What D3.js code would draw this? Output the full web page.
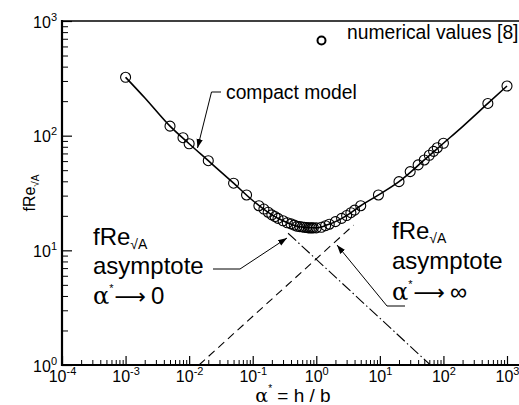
<!DOCTYPE html>
<html><head><meta charset="utf-8">
<script src="https://cdn.jsdelivr.net/npm/d3@7"></script>
<style>body{margin:0;background:#fff} svg{display:block} text{font-family:"Liberation Sans",Arial,sans-serif;fill:#000}</style>
</head><body><svg id="c" width="519" height="405"></svg>
<script>
// ---- data ----
const xDecades = [-4, -3, -2, -1, 0, 1, 2, 3];
const yDecades = [0, 1, 2, 3];
const modelAlpha = [0.001, 0.002, 0.005, 0.01, 0.02, 0.05, 0.1, 0.2, 0.3, 0.5, 0.7, 1, 1.5, 2, 3, 5, 10, 20, 50, 100, 200, 500, 1000];
const modelF     = [323, 214, 121, 85, 60.5, 38.5, 27.2, 20.4, 18.1, 16.2, 15.8, 15.7, 16.7, 17.8, 20.1, 24.5, 30.9, 39.7, 61.4, 85.9, 120, 191, 271];
const numAlpha = [0.001, 0.005, 0.008, 0.01, 0.02, 0.05, 0.08,
  0.125, 0.15, 0.175, 0.2, 0.225, 0.25, 0.3, 0.35, 0.4, 0.45, 0.5, 0.55, 0.6, 0.65, 0.7, 0.75, 0.8, 0.85, 0.9, 1.0,
  1.2, 1.4, 1.6, 2, 2.5, 3, 3.5, 4, 5,
  9.5, 20, 30, 40, 50, 60, 70, 80, 100, 500, 1000];
const numF = [323, 121, 96, 85, 60.5, 38.5, 30.4,
  24.5, 22.9, 21.5, 20.4, 19.7, 19.0, 18.1, 17.4, 17.0, 16.6, 16.2, 16.1, 16.0, 15.9, 15.8, 15.7, 15.7, 15.7, 15.7, 15.7,
  15.9, 16.4, 16.9, 17.8, 19.0, 20.1, 21.3, 22.4, 24.5,
  30.4, 39.7, 48.6, 55.6, 61.4, 67.5, 73, 78.5, 85.9, 191, 271];
const asymZeroAlpha = [0.36, 62.4];
const asymZeroF = [14.1, 1.0];
const asymInfAlpha = [0.0143, 3.86];
const asymInfF = [1.0, 16.6];
const legendLabel = "numerical values [8]";
const modelLabel = "compact model";

// ---- chart ----
const svg = d3.select("#c");
const x = d3.scaleLog().domain([1e-4, 1e3]).range([62, 507]);
const y = d3.scaleLog().domain([1, 1e3]).range([365, 21]);

const majorX = xDecades.map(e => Math.pow(10, e));
const majorY = yDecades.map(e => Math.pow(10, e));
const minorX = [], minorY = [];
xDecades.slice(0, -1).forEach(e => { for (let m = 2; m <= 9; m++) minorX.push(m * Math.pow(10, e)); });
yDecades.slice(0, -1).forEach(e => { for (let m = 2; m <= 9; m++) minorY.push(m * Math.pow(10, e)); });

// minor ticks
svg.append("g").attr("transform", "translate(0,365)")
  .call(d3.axisBottom(x).tickValues(minorX).tickSize(-5).tickFormat(() => ""))
  .call(g => g.select(".domain").remove());
svg.append("g").attr("transform", "translate(62,0)")
  .call(d3.axisLeft(y).tickValues(minorY).tickSize(-6).tickFormat(() => ""))
  .call(g => g.select(".domain").remove());

function supLabel(sel, size) {
  sel.each(function (d) {
    const t = d3.select(this);
    t.text(null);
    t.append("tspan").text("10");
    t.append("tspan").attr("dy", -7).attr("font-size", size).text(Math.round(Math.log10(d)));
  });
}
// major ticks
const gx = svg.append("g").attr("transform", "translate(0,365)")
  .call(d3.axisBottom(x).tickValues(majorX).tickSize(-9).tickFormat(d => d))
  .call(g => g.select(".domain").remove());
gx.selectAll(".tick line").attr("stroke-width", 1.2);
gx.selectAll(".tick text").attr("y", 17).attr("dy", null).attr("font-size", 16)
  .style("font-family", "Liberation Sans, Arial, sans-serif").call(s => supLabel(s, 11));

const gy = svg.append("g").attr("transform", "translate(62,0)")
  .call(d3.axisLeft(y).tickValues(majorY).tickSize(-10).tickFormat(d => d))
  .call(g => g.select(".domain").remove());
gy.selectAll(".tick line").attr("stroke-width", 1.2);
gy.selectAll(".tick text").attr("x", -5).attr("dy", null).attr("y", 6).attr("font-size", 16)
  .style("font-family", "Liberation Sans, Arial, sans-serif").call(s => supLabel(s, 11));

// frame lines
svg.append("line").attr("x1", 62).attr("x2", 519).attr("y1", y(1e3)).attr("y2", y(1e3)).attr("stroke", "#000").attr("stroke-width", 1.6);
svg.append("line").attr("x1", 61).attr("x2", 519).attr("y1", y(1)).attr("y2", y(1)).attr("stroke", "#000").attr("stroke-width", 2.2);
svg.append("line").attr("x1", x(1e-4)).attr("x2", x(1e-4)).attr("y1", 20).attr("y2", 366).attr("stroke", "#000").attr("stroke-width", 2.2);

// asymptotes
const line = d3.line().x(d => x(d[0])).y(d => y(d[1]));
svg.append("path").attr("d", line(asymZeroAlpha.map((a, i) => [a, asymZeroF[i]])))
  .attr("fill", "none").attr("stroke", "#000").attr("stroke-width", 1.1).attr("stroke-dasharray", "11,3,1.5,3");
svg.append("path").attr("d", line(asymInfAlpha.map((a, i) => [a, asymInfF[i]])))
  .attr("fill", "none").attr("stroke", "#000").attr("stroke-width", 1.1).attr("stroke-dasharray", "8,5");

// model
svg.append("path").attr("d", line.curve(d3.curveMonotoneX)(modelAlpha.map((a, i) => [a, modelF[i]])))
  .attr("fill", "none").attr("stroke", "#000").attr("stroke-width", 1.6);

// points
svg.append("g").selectAll("circle").data(numAlpha.map((a, i) => [a, numF[i]])).join("circle")
  .attr("cx", d => x(d[0])).attr("cy", d => y(d[1])).attr("r", 5)
  .attr("fill", "none").attr("stroke", "#000").attr("stroke-width", 1.1);

// legend
svg.append("circle").attr("cx", 321.5).attr("cy", 40.5).attr("r", 4).attr("fill", "none").attr("stroke", "#000").attr("stroke-width", 2);
svg.append("text").attr("x", 347).attr("y", 39).attr("font-size", 19.3).text(legendLabel);

// arrows
const defs = svg.append("defs");
defs.append("marker").attr("id", "ah").attr("viewBox", "0 0 10 10").attr("refX", 10).attr("refY", 5)
  .attr("markerWidth", 9).attr("markerHeight", 9).attr("markerUnits", "userSpaceOnUse").attr("orient", "auto")
  .append("path").attr("d", "M0,1.5 L10,5 L0,8.5 Z").attr("fill", "#000");
function leader(pts) {
  svg.append("polyline").attr("points", pts.map(p => p.join(",")).join(" "))
    .attr("fill", "none").attr("stroke", "#000").attr("stroke-width", 1).attr("marker-end", "url(#ah)");
}
// compact model label
svg.append("text").attr("x", 226).attr("y", 99).attr("font-size", 19.3).text(modelLabel);
leader([[221, 92], [211.5, 92], [197.5, 148]]);

// asymptote labels
function fReLabel(x0, y0) {
  const t = svg.append("text").attr("x", x0).attr("y", y0).attr("font-size", 24);
  t.append("tspan").text("fRe");
  t.append("tspan").attr("dy", 4).attr("font-size", 14).text("\u221AA");
}
function alphaLabel(x0, y0, tail) {
  const t = svg.append("text").attr("x", x0).attr("y", y0).attr("font-size", 24);
  t.append("tspan").style("font-family", "DejaVu Serif, serif").text("\u03B1");
  t.append("tspan").attr("dy", -12).attr("font-size", 11).text("*");
  t.append("tspan").attr("dy", 12).attr("dx", 1).style("font-family", "DejaVu Sans, sans-serif").attr("font-size", 22).text("\u27F6");
  t.append("tspan").attr("dx", 5).text(tail);
}
fReLabel(93, 245);
svg.append("text").attr("x", 93).attr("y", 274).attr("font-size", 24).text("asymptote");
alphaLabel(93, 304, "0");
leader([[213, 269], [240, 269], [287, 238]]);

fReLabel(392, 239);
svg.append("text").attr("x", 392).attr("y", 269).attr("font-size", 24).text("asymptote");
alphaLabel(392, 300, "\u221E");
leader([[405, 306], [387, 306], [337, 245]]);

// axis titles
const xt = svg.append("text").attr("x", 293).attr("y", 402).attr("text-anchor", "middle").attr("font-size", 19);
xt.append("tspan").style("font-family", "DejaVu Serif, serif").text("\u03B1");
xt.append("tspan").attr("dy", -10).attr("font-size", 10).text("*");
xt.append("tspan").attr("dy", 10).text(" = h / b");
const yt = svg.append("text").attr("transform", "translate(35,193) rotate(-90)").attr("text-anchor", "middle").attr("font-size", 16);
yt.append("tspan").text("fRe");
yt.append("tspan").attr("dy", 4).attr("font-size", 10).text("\u221AA");
</script></body></html>
